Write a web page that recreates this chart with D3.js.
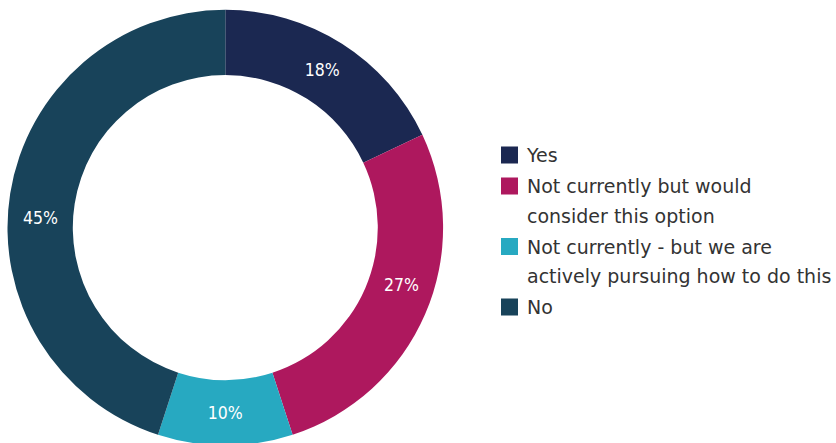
<!DOCTYPE html>
<html><head><meta charset="utf-8">
<script src="https://cdn.jsdelivr.net/npm/d3@7"></script>
<style>html,body{margin:0;padding:0;background:#fff;}</style>
</head><body>
<svg id="chart" width="836" height="443"></svg>
<script>
const categories = ["Yes", "Not currently but would consider this option", "Not currently - but we are actively pursuing how to do this", "No"];
const legendLines = [["Yes"], ["Not currently but would", "consider this option"], ["Not currently - but we are", "actively pursuing how to do this"], ["No"]];
const values = [18, 27, 10, 45];
const colors = ["#1b2851", "#ae185e", "#27a9c1", "#18435a"];
const labelAngleShiftDeg = [-0.8, -5.4, 0, -6];

const svg = d3.select("#chart");
const labelFont = "'DejaVu Sans Condensed', 'DejaVu Sans', sans-serif";
const legendFont = "'DejaVu Sans', sans-serif";
const cx = 225.3, cy = 227.6, rOuter = 217.8, rInner = 152.5;

const pie = d3.pie().sort(null).value(d => d);
const arc = d3.arc().innerRadius(rInner).outerRadius(rOuter);
const g = svg.append("g").attr("transform", `translate(${cx},${cy})`);
const arcs = pie(values);
g.selectAll("path").data(arcs).join("path")
  .attr("d", arc).attr("fill", (d, i) => colors[i]);
const rLab = (rInner + rOuter) / 2;
g.selectAll("text").data(arcs).join("text")
  .attr("transform", (d, i) => {
    const a = (d.startAngle + d.endAngle) / 2 + labelAngleShiftDeg[i] * Math.PI / 180;
    return `translate(${rLab * Math.sin(a)},${-rLab * Math.cos(a)})`;
  })
  .attr("text-anchor", "middle").attr("dy", "0.36em")
  .attr("fill", "#fff").attr("font-family", labelFont).attr("font-size", 17.5)
  .text(d => d.data + "%");

const lg = svg.append("g").attr("transform", "translate(501,146.5)");
let y = 0;
legendLines.forEach((lines, i) => {
  lg.append("rect").attr("x", 0).attr("y", y).attr("width", 17).attr("height", 17).attr("fill", colors[i]);
  lines.forEach((ln, j) => {
    lg.append("text").attr("x", 26).attr("y", y + 15.5 + j * 29.5)
      .attr("font-family", legendFont).attr("font-size", 19).attr("fill", "#333")
      .text(ln);
  });
  y += lines.length * 29.5 + 1.5;
});
</script>
</body></html>
